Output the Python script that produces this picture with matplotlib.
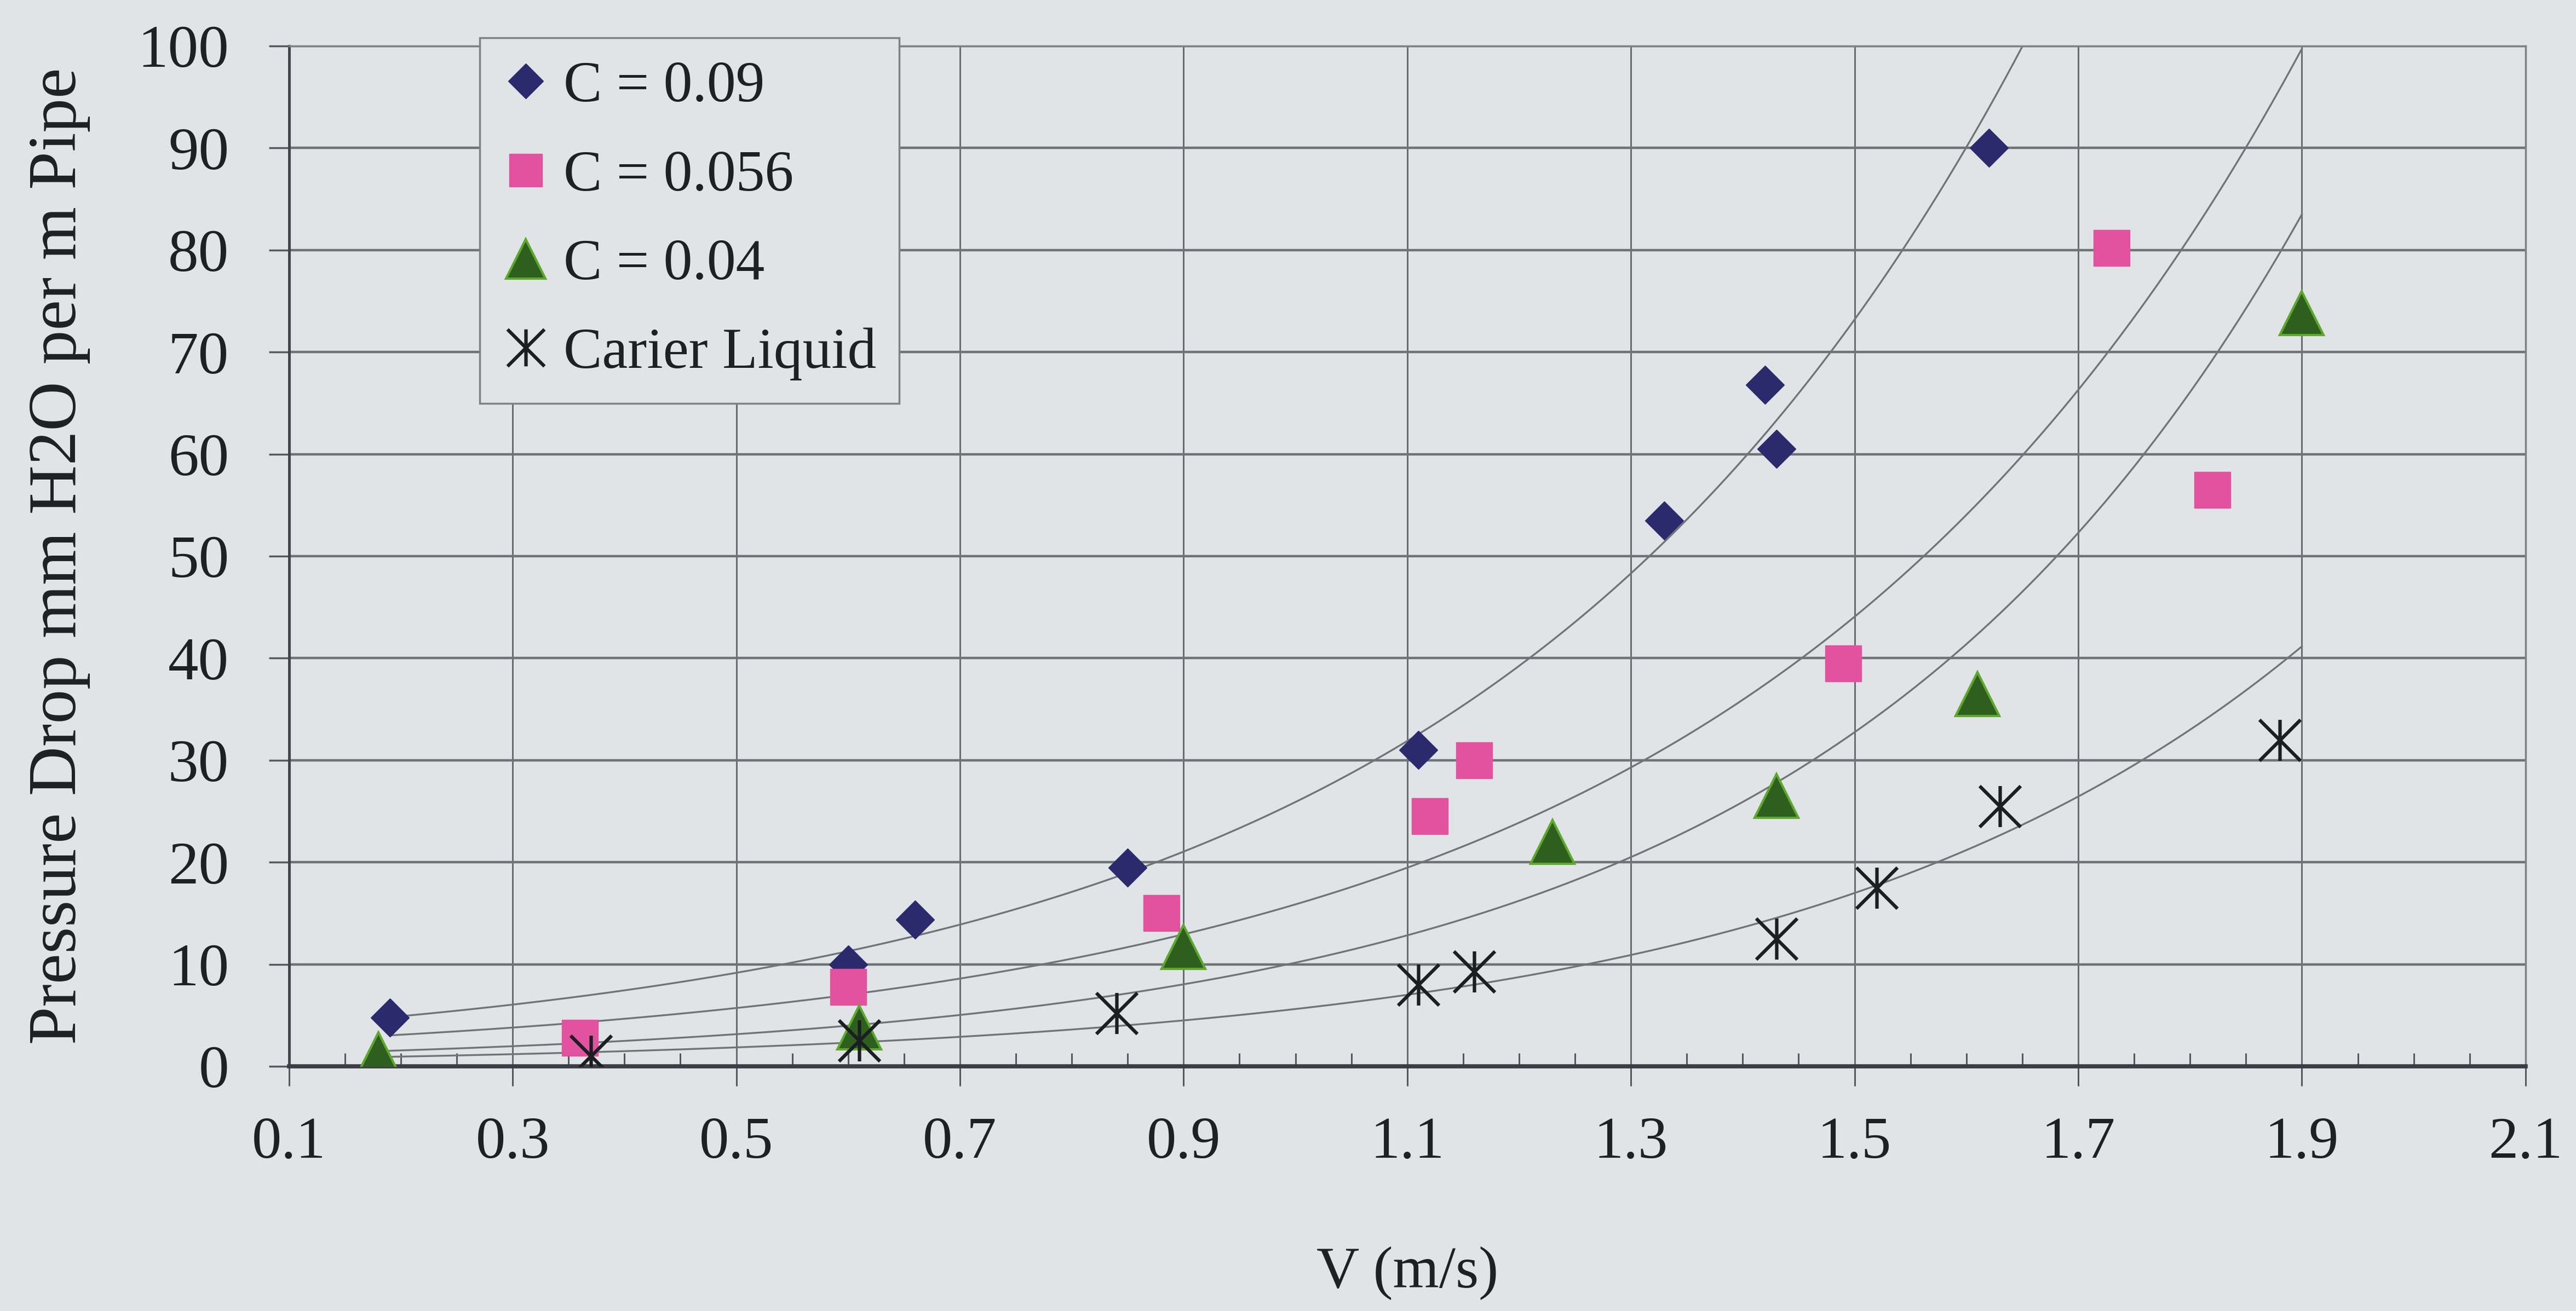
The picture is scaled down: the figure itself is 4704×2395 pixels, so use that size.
import numpy as np
import matplotlib
matplotlib.use("Agg")
import matplotlib.pyplot as plt
from matplotlib.path import Path
from matplotlib.ticker import MultipleLocator, FixedLocator

# ---- data ----
x_c09 = [0.19, 0.60, 0.66, 0.85, 1.11, 1.33, 1.42, 1.43, 1.62]
y_c09 = [4.8, 10.0, 14.4, 19.5, 31.0, 53.5, 66.8, 60.5, 90.0]

x_c056 = [0.36, 0.60, 0.88, 1.12, 1.16, 1.49, 1.73, 1.82]
y_c056 = [2.8, 7.8, 15.0, 24.5, 30.0, 39.5, 80.2, 56.5]

x_c04 = [0.18, 0.61, 0.90, 1.23, 1.43, 1.61, 1.90]
y_c04 = [1.2, 3.8, 11.7, 22.0, 26.5, 36.5, 73.8]

x_car = [0.37, 0.61, 0.84, 1.11, 1.16, 1.43, 1.52, 1.63, 1.88]
y_car = [1.0, 2.5, 5.2, 8.0, 9.3, 12.5, 17.5, 25.5, 32.0]

labels = ["C = 0.09", "C = 0.056", "C = 0.04", "Carier Liquid"]
x_ticks = [0.1, 0.3, 0.5, 0.7, 0.9, 1.1, 1.3, 1.5, 1.7, 1.9, 2.1]
y_ticks = [0, 10, 20, 30, 40, 50, 60, 70, 80, 90, 100]
trend_range = (0.19, 1.90)

# ---- style ----
BG = "#e0e4e7"
SERIF = ["Liberation Serif", "DejaVu Serif"]
plt.rcParams["font.family"] = SERIF

star = Path([(-1, -1), (1, 1), (-1, 1), (1, -1), (0, -1), (0, 1)],
            [Path.MOVETO, Path.LINETO, Path.MOVETO, Path.LINETO, Path.MOVETO, Path.LINETO])

fig = plt.figure(figsize=(47.04, 23.95), dpi=100, facecolor=BG)
ax = fig.add_axes([0.1122, 0.1866, 0.9804 - 0.1122, 0.9649 - 0.1866])
ax.set_facecolor(BG)

ax.set_xlim(0.1, 2.1)
ax.set_ylim(0, 100)

# gridlines
ax.xaxis.set_major_locator(FixedLocator(x_ticks))
ax.xaxis.set_minor_locator(MultipleLocator(0.05))
ax.yaxis.set_major_locator(FixedLocator(y_ticks))
ax.grid(axis="y", which="major", color="#6e7378", linewidth=3.2, zorder=0)
ax.grid(axis="x", which="major", color="#6a6e73", linewidth=2.2, zorder=0)
ax.set_axisbelow(True)

# trendlines (exponential fit, as in spreadsheet trendlines)
xs = np.linspace(trend_range[0], trend_range[1], 400)
for xd, yd in [(x_c09, y_c09), (x_c056, y_c056), (x_c04, y_c04), (x_car, y_car)]:
    b, lna = np.polyfit(np.array(xd), np.log(np.array(yd)), 1)
    ax.plot(xs, np.exp(lna) * np.exp(b * xs), color="#707478", linewidth=2.4, zorder=2)

# markers
h1, = ax.plot(x_c09, y_c09, linestyle="none", marker="D", markersize=36,
              markerfacecolor="#2b2a6c", markeredgecolor="#2b2a6c", markeredgewidth=1, zorder=3)
h2, = ax.plot(x_c056, y_c056, linestyle="none", marker="s", markersize=48,
              markerfacecolor="#e2529e", markeredgecolor="#e2529e", markeredgewidth=1, zorder=3)
h3, = ax.plot(x_c04, y_c04, linestyle="none", marker="^", markersize=58,
              markerfacecolor="#2f5f1f", markeredgecolor="#5ea82e", markeredgewidth=3, zorder=3)
h4, = ax.plot(x_car, y_car, linestyle="none", marker=star, markersize=54,
              markerfacecolor="none", markeredgecolor="#1c1f22", markeredgewidth=4.5, zorder=3)

# spines
for s in ["top", "right"]:
    ax.spines[s].set_color("#7d8287")
    ax.spines[s].set_linewidth(2.5)
ax.spines["left"].set_color("#40444a")
ax.spines["left"].set_linewidth(3.5)
ax.spines["bottom"].set_color("#3a3e44")
ax.spines["bottom"].set_linewidth(5.5)

# ticks
ax.tick_params(axis="x", which="major", direction="out", length=26, width=2.2,
               color="#555a60", labelsize=78, pad=40, labelcolor="#1e2124")
ax.tick_params(axis="x", which="minor", direction="in", length=17, width=2.2, color="#555a60")
ax.tick_params(axis="y", which="major", direction="out", length=27, width=2.5,
               color="#555a60", labelsize=80, pad=52, labelcolor="#1e2124")
ax.set_xticklabels([f"{v:.1f}" for v in x_ticks])
ax.set_yticklabels([str(v) for v in y_ticks])

ax.set_xlabel("V (m/s)", fontsize=78, color="#1e2124", labelpad=100)
ax.set_ylabel("Pressure Drop mm H2O per m Pipe", fontsize=90, color="#1e2124", labelpad=62)

leg = ax.legend([h1, h2, h3, h4], labels, loc="upper left",
                bbox_to_anchor=(0.0852, 1.008), frameon=True, fancybox=False,
                fontsize=76, markerscale=0.9, handlelength=0.8, handletextpad=0.25,
                labelspacing=0.62, borderpad=0.4, borderaxespad=0)
leg.get_frame().set_facecolor(BG)
leg.get_frame().set_edgecolor("#7d8287")
leg.get_frame().set_linewidth(2.5)
leg.get_frame().set_alpha(1)
for t in leg.get_texts():
    t.set_color("#1e2124")

fig.savefig("out.png", dpi=100, facecolor=BG)
